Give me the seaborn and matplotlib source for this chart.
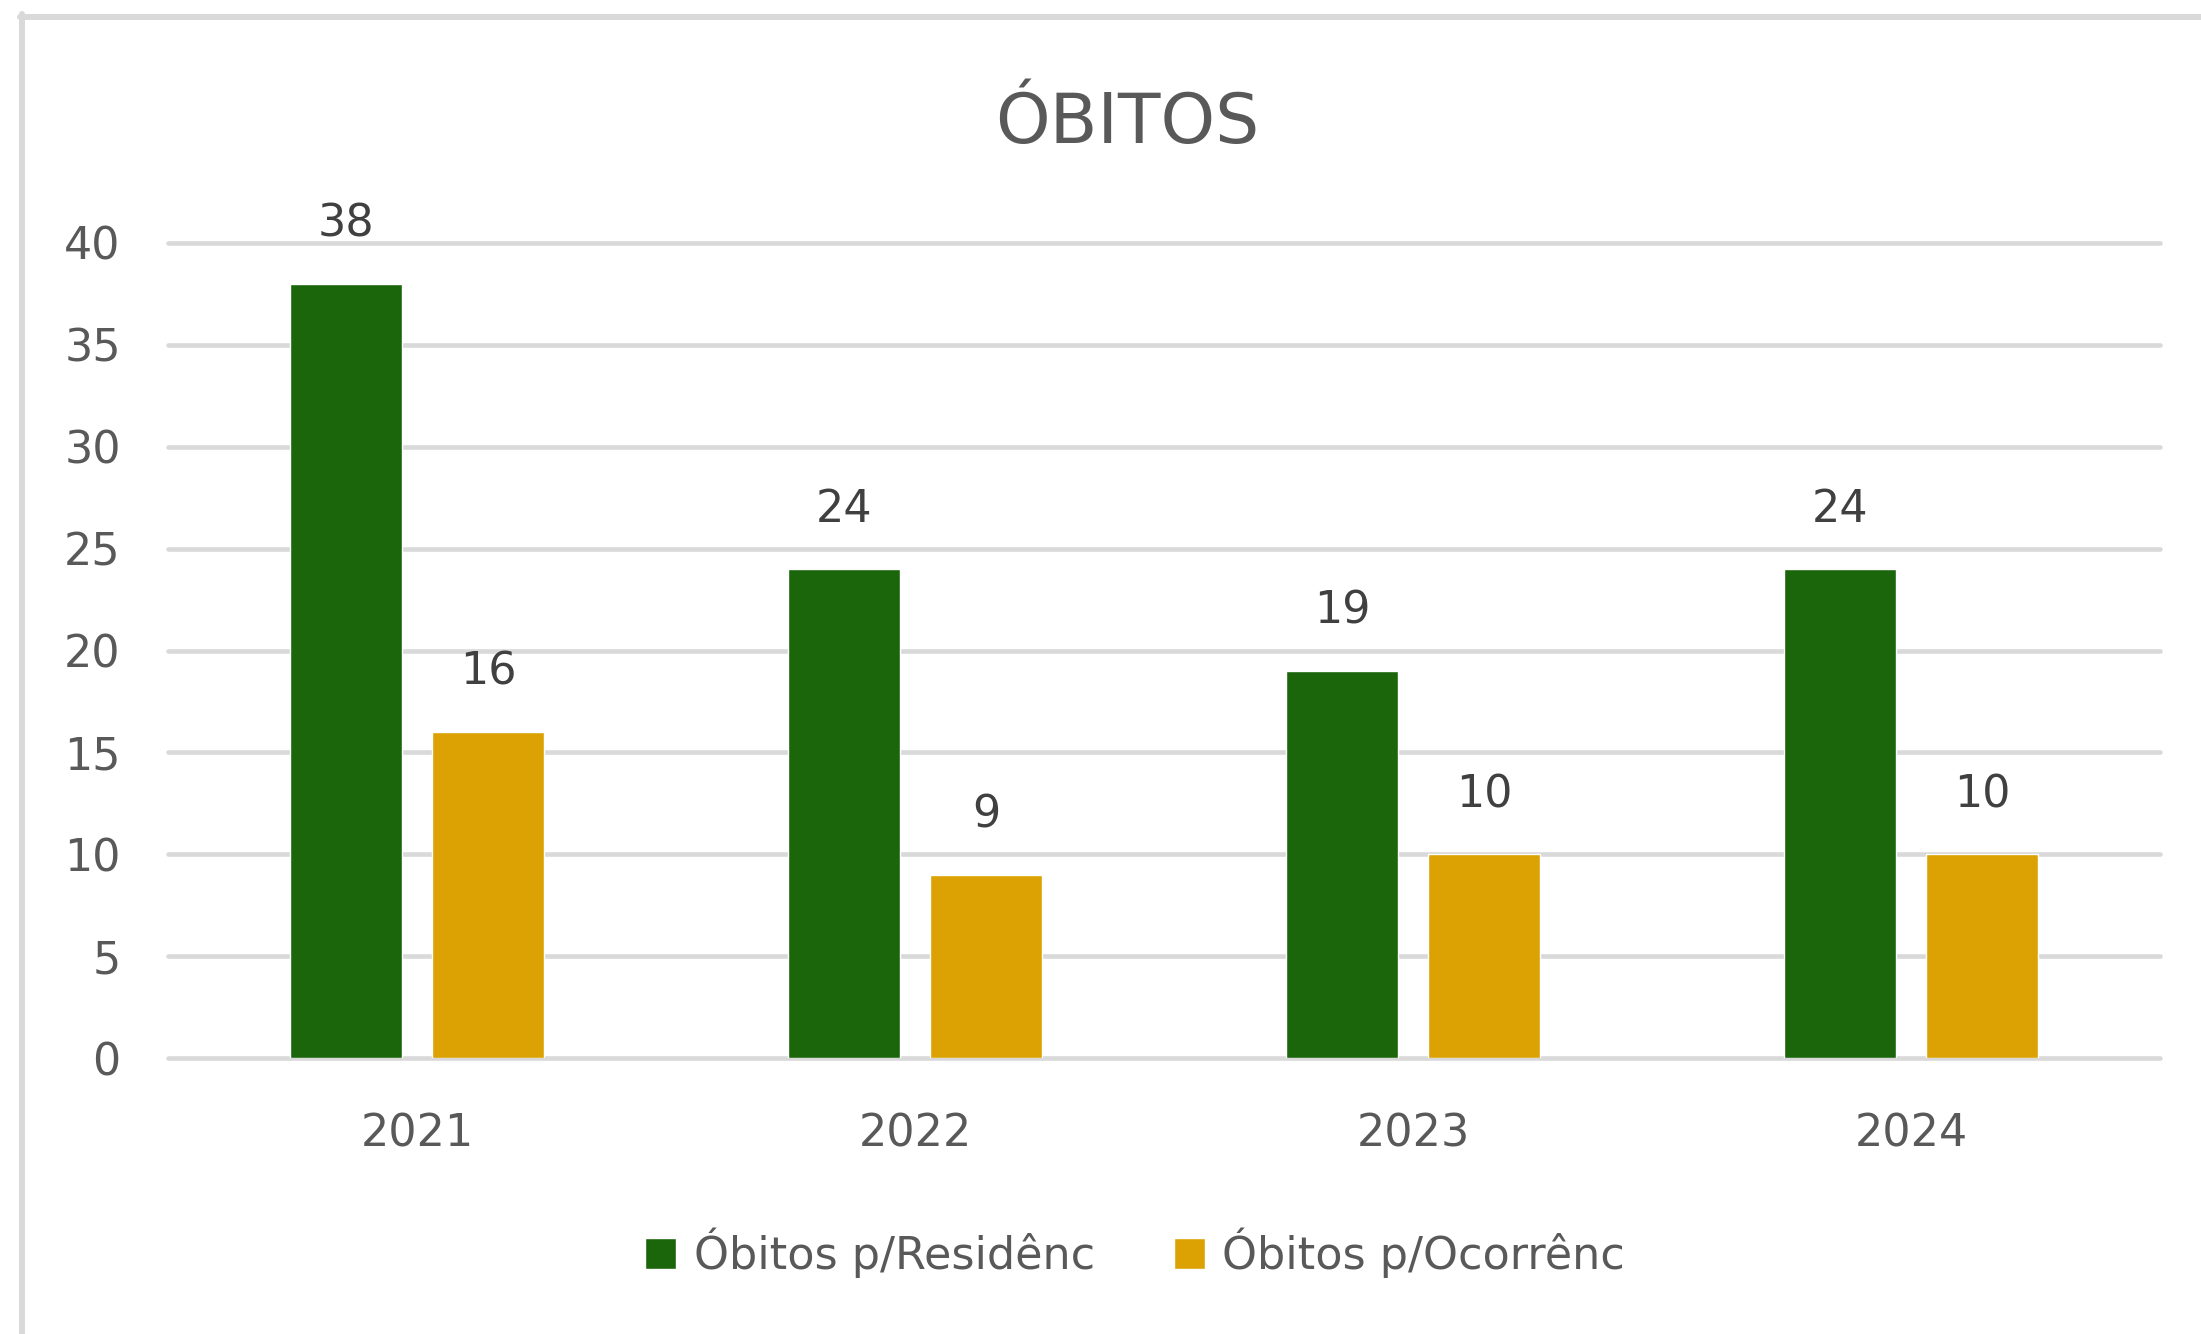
import matplotlib
matplotlib.use("Agg")
import matplotlib.pyplot as plt
from matplotlib.lines import Line2D
import seaborn as sns
import pandas as pd

# ---- data ----
anos = ["2021", "2022", "2023", "2024"]
series = ["Óbitos p/Residênc", "Óbitos p/Ocorrênc"]
residencia = [38, 24, 19, 24]
ocorrencia = [16, 9, 10, 10]
yticks = [0, 5, 10, 15, 20, 25, 30, 35, 40]
titulo = "ÓBITOS"
cores = ["#1b660b", "#dca203"]

df = pd.DataFrame({
    "Ano": anos * 2,
    "Valor": residencia + ocorrencia,
    "Série": [series[0]] * len(anos) + [series[1]] * len(anos),
})

sns.set_theme(style="white")
plt.rcParams["font.family"] = ["DejaVu Sans"]

W, H = 2201, 1334
fig = plt.figure(figsize=(W / 100, H / 100), dpi=100)
fig.patch.set_facecolor("white")

left, right = 168 / W, 2160 / W
bottom, top = 1 - 1058 / H, 1 - 243 / H
ax = fig.add_axes([left, bottom, right - left, top - bottom])

sns.barplot(data=df, x="Ano", y="Valor", hue="Série", palette=cores,
            width=0.57, gap=0.21, saturation=1, ax=ax, legend=True)

ax.set_xlim(-0.5, len(anos) - 0.5)
ax.set_ylim(0, 40)
ax.set_yticks(yticks)
ax.set_xlabel("")
ax.set_ylabel("")
for s in ax.spines.values():
    s.set_visible(False)
ax.set_axisbelow(True)
ax.yaxis.grid(True, color="#d9d9d9", linewidth=3.3)
for gl in ax.get_ygridlines():
    gl.set_clip_on(False)
ax.xaxis.grid(False)
ax.tick_params(axis="y", length=0, pad=34, labelsize=32, labelcolor="#595959")
ax.tick_params(axis="x", length=0, pad=39, labelsize=32, labelcolor="#595959")

# data labels
for cont in ax.containers:
    for p in cont.patches:
        h = p.get_height()
        ax.annotate(f"{h:g}", xy=(p.get_x() + p.get_width() / 2, h),
                    xytext=(0, 43), textcoords="offset points",
                    ha="center", va="center", fontsize=32, color="#404040",
                    annotation_clip=False)

# legend
handles, labels = ax.get_legend_handles_labels()
ax.legend_.remove()
fig.legend(handles, labels, loc="center", bbox_to_anchor=(1135 / W, 1 - 1253 / H),
           ncol=2, frameon=False, fontsize=32, handlelength=0.7, handleheight=0.7,
           handletextpad=0.4, columnspacing=1.77, labelcolor="#595959")

# title
fig.text(1127 / W, 1 - 143 / H, titulo, ha="center", va="baseline",
         fontsize=50, color="#595959")

# outer border (top and left visible)
fig.add_artist(Line2D([20 / W, 1.0], [1 - 17 / H, 1 - 17 / H], color="#d9d9d9",
                      linewidth=4.3, transform=fig.transFigure))
fig.add_artist(Line2D([22 / W, 22 / W], [0.0, 1 - 14 / H], color="#d9d9d9",
                      linewidth=4.3, transform=fig.transFigure))

fig.savefig("out.png", dpi=100, facecolor="white")
